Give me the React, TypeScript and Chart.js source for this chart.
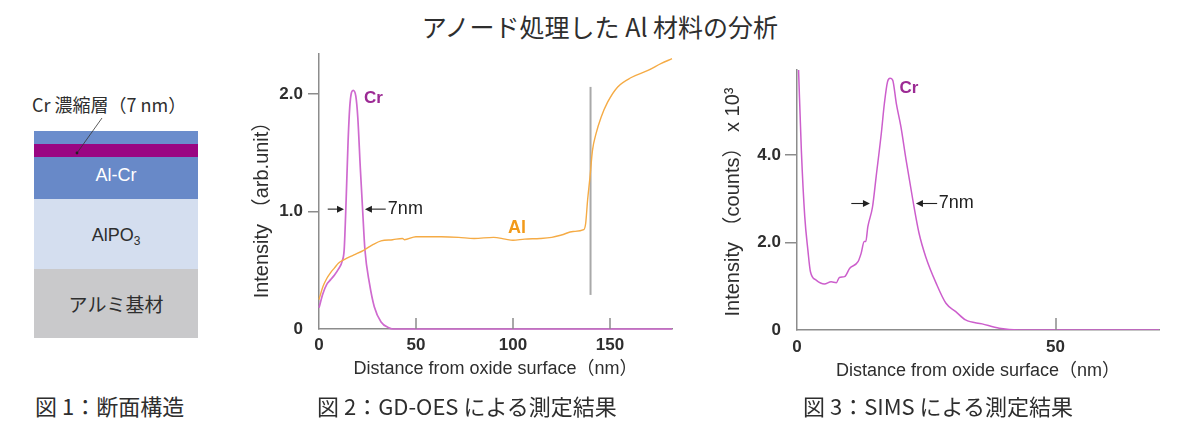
import React, { useEffect, useRef } from "react";
import { Chart, registerables } from "chart.js";
Chart.register(...registerables);

const FONT = "'Liberation Sans', 'Noto Sans CJK JP', Arial, sans-serif";
const JP = "'Noto Sans CJK JP', 'Noto Sans', sans-serif";
const TEXT = "#2e2e2e";
const AXIS = "#8c8c8c";

// ---- Figure 2: GD-OES ----
const gdXTicks = [0, 50, 100, 150];
const gdYTicks = [0, 1, 2];
const gdCrX = [0, 2, 4, 6, 8, 10, 12, 13, 14, 15, 16, 17.6, 19, 20, 21.3, 22.5, 23.7, 26, 28.5, 32, 36, 38, 182];
const gdCrY = [0.18, 0.3, 0.38, 0.42, 0.46, 0.51, 0.58, 0.68, 1.1, 1.6, 1.92, 2.03, 1.98, 1.8, 1.37, 1.01, 0.67, 0.39, 0.19, 0.06, 0.01, 0, 0];
const gdAlX = [0, 2, 4, 6, 8, 10, 13, 18, 23, 28, 32, 38, 43, 44, 50, 63, 72, 80, 90, 96, 100, 106, 114, 120, 125, 131, 136.5, 137.5, 138.5, 139.7, 141, 142.8, 145.4, 148.8, 154, 161, 169.6, 176.5, 182];
const gdAlY = [0.25, 0.36, 0.43, 0.48, 0.52, 0.56, 0.59, 0.63, 0.67, 0.72, 0.75, 0.76, 0.77, 0.76, 0.785, 0.785, 0.78, 0.77, 0.78, 0.765, 0.755, 0.765, 0.77, 0.78, 0.8, 0.83, 0.845, 0.9, 1.1, 1.29, 1.52, 1.66, 1.8, 1.93, 2.06, 2.14, 2.2, 2.26, 2.3];

// ---- Figure 3: SIMS ----
const simsXTicks = [0, 50];
const simsYTicks = [0, 2, 4];
const simsX = [0.3, 0.84, 1.5, 2.1, 2.6, 3.7, 5.3, 6.6, 7.6, 8.2, 9.2, 10.2, 11.8, 12.4, 13.0, 13.3, 13.7, 14.6, 15.3, 16.3, 16.9, 17.5, 18.0, 18.5, 19.2, 20.1, 21.1, 22.4, 23.6, 24.9, 26.9, 28.8, 30.7, 32.6, 35.8, 39.1, 42.9, 70];
const simsY = [5.95, 4.11, 2.59, 1.83, 1.33, 1.14, 1.05, 1.1, 1.08, 1.2, 1.22, 1.41, 1.56, 1.75, 2.02, 2.02, 2.36, 2.81, 3.5, 4.49, 5.18, 5.67, 5.75, 5.71, 5.18, 4.64, 3.88, 2.97, 2.21, 1.67, 1.07, 0.61, 0.42, 0.23, 0.14, 0.04, 0, 0];

const pts = (xs: number[], ys: number[]) => xs.map((x, i) => ({ x, y: ys[i] }));
const fmtY = (v: number) => (v === 0 ? "0" : v.toFixed(1));

type Arrow = { x1: number; x2: number; y: number };
type Label = { x: number; y: number; text: string; color: string; font: string };
type AnnotCfg = {
  vlines?: { x: number; y1: number; y2: number; color: string; width: number }[];
  arrows?: Arrow[];
  labels?: Label[];
  yTitle?: { text: string; cx: number; cy: number; font: string };
  tickLen?: number;
  tickValues?: number[];
};

function makeAnnot(cfg: AnnotCfg) {
  return {
    id: "annot",
    beforeDatasetsDraw(chart: any) {
      const { ctx, scales } = chart;
      const xs = scales.x, ys = scales.y;
      (cfg.vlines || []).forEach((v) => {
        ctx.save();
        ctx.strokeStyle = v.color;
        ctx.lineWidth = v.width;
        const px = xs.getPixelForValue(v.x);
        ctx.beginPath();
        ctx.moveTo(px, ys.getPixelForValue(v.y1));
        ctx.lineTo(px, ys.getPixelForValue(v.y2));
        ctx.stroke();
        ctx.restore();
      });
    },
    afterDraw(chart: any) {
      const { ctx, scales } = chart;
      const xs = scales.x, ys = scales.y;
      const base = ys.getPixelForValue(0);
      const len = cfg.tickLen || 0;
      (cfg.tickValues || []).forEach((v) => {
        if (v === 0) return;
        const px = Math.round(xs.getPixelForValue(v));
        ctx.save();
        ctx.fillStyle = AXIS;
        ctx.fillRect(px - 0.75, base - len, 1.5, len);
        ctx.restore();
      });
      (cfg.arrows || []).forEach((a) => {
        const p1 = xs.getPixelForValue(a.x1);
        const p2 = xs.getPixelForValue(a.x2);
        const py = ys.getPixelForValue(a.y);
        const dir = p2 > p1 ? 1 : -1;
        ctx.save();
        ctx.strokeStyle = "#222";
        ctx.fillStyle = "#222";
        ctx.lineWidth = 1.1;
        ctx.beginPath();
        ctx.moveTo(p1, py);
        ctx.lineTo(p2 - dir * 5, py);
        ctx.stroke();
        ctx.beginPath();
        ctx.moveTo(p2, py);
        ctx.lineTo(p2 - dir * 7, py - 3.5);
        ctx.lineTo(p2 - dir * 7, py + 3.5);
        ctx.closePath();
        ctx.fill();
        ctx.restore();
      });
      (cfg.labels || []).forEach((l) => {
        ctx.save();
        ctx.fillStyle = l.color;
        ctx.font = l.font;
        ctx.textAlign = "left";
        ctx.textBaseline = "middle";
        ctx.fillText(l.text, xs.getPixelForValue(l.x), ys.getPixelForValue(l.y));
        ctx.restore();
      });
      if (cfg.yTitle) {
        const t = cfg.yTitle;
        ctx.save();
        ctx.translate(t.cx, t.cy);
        ctx.rotate(-Math.PI / 2);
        ctx.fillStyle = TEXT;
        ctx.font = t.font;
        ctx.textAlign = "center";
        ctx.textBaseline = "middle";
        ctx.fillText(t.text, 0, 0);
        ctx.restore();
      }
    },
  };
}

type AxisSpec = {
  xMax: number;
  yMax: number;
  xTicks: number[];
  yTicks: number[];
  yWidth: number;
  xHeight: number;
  yTickLen: number;
  xLabelPad: number;
  yLabelPad: number;
  xTitlePad: number;
};

function buildScales(s: AxisSpec) {
  const tickFont = { family: FONT, size: 17, weight: "bold" };
  return {
    x: {
      type: "linear",
      min: 0,
      max: s.xMax,
      afterBuildTicks: (sc: any) => {
        sc.ticks = s.xTicks.map((v) => ({ value: v }));
      },
      afterFit: (sc: any) => {
        sc.height = s.xHeight;
        sc.paddingLeft = 0;
        sc.paddingRight = 0;
      },
      border: { display: true, color: AXIS, width: 1.5 },
      grid: {
        drawOnChartArea: false,
        drawTicks: false,
        tickLength: 0,
      },
      ticks: {
        color: TEXT,
        font: tickFont,
        padding: s.xLabelPad,
        maxRotation: 0,
        callback: (v: any) => String(v),
      },
      title: {
        display: true,
        text: "Distance from oxide surface（nm）",
        color: TEXT,
        font: { family: FONT, size: 18 },
        padding: { top: 0, bottom: s.xTitlePad },
      },
    },
    y: {
      type: "linear",
      min: 0,
      max: s.yMax,
      afterBuildTicks: (sc: any) => {
        sc.ticks = s.yTicks.map((v) => ({ value: v }));
      },
      afterFit: (sc: any) => {
        sc.width = s.yWidth;
        sc.paddingTop = 0;
        sc.paddingBottom = 0;
      },
      border: { display: true, color: AXIS, width: 1.5 },
      grid: {
        drawOnChartArea: false,
        drawTicks: true,
        tickLength: s.yTickLen,
        lineWidth: 1.5,
        color: (c: any) => (c.tick && c.tick.value === 0 ? "rgba(0,0,0,0)" : AXIS),
      },
      ticks: {
        color: TEXT,
        font: tickFont,
        padding: s.yLabelPad,
        callback: (v: any) => fmtY(Number(v)),
      },
    },
  };
}

function GdChart() {
  const ref = useRef<HTMLCanvasElement | null>(null);
  useEffect(() => {
    if (!ref.current) return;
    const chart = new Chart(ref.current, {
      type: "line",
      data: {
        datasets: [
          {
            label: "Al",
            data: pts(gdAlX, gdAlY),
            borderColor: "#f5ab45",
            borderWidth: 1.4,
            pointRadius: 0,
            cubicInterpolationMode: "monotone",
            clip: false,
          },
          {
            label: "Cr",
            data: pts(gdCrX, gdCrY),
            borderColor: "#cf6acf",
            borderWidth: 1.7,
            pointRadius: 0,
            cubicInterpolationMode: "monotone",
            clip: false,
          },
        ],
      },
      options: {
        responsive: false,
        animation: false,
        devicePixelRatio: 1,
        layout: { padding: { left: 0, right: 8, top: 4, bottom: 0 } },
        plugins: { legend: { display: false }, tooltip: { enabled: false } },
        scales: buildScales({
          xMax: 182,
          yMax: 2.34,
          xTicks: gdXTicks,
          yTicks: gdYTicks,
          yWidth: 79,
          xHeight: 61,
          yTickLen: 11,
          xLabelPad: 6,
          yLabelPad: 5,
          xTitlePad: 10,
        }) as any,
      } as any,
      plugins: [
        makeAnnot({
          tickValues: gdXTicks,
          tickLen: 11,
          vlines: [{ x: 140, y1: 0.29, y2: 2.06, color: "#a9a9a9", width: 2 }],
          arrows: [
            { x1: 4.5, x2: 12.9, y: 1.02 },
            { x1: 34.4, x2: 23.7, y: 1.02 },
          ],
          labels: [
            { x: 35.5, y: 1.02, text: "7nm", color: "#222", font: `18px ${FONT}` },
            { x: 23.2, y: 1.96, text: "Cr", color: "#9c2a94", font: `bold 17px ${FONT}` },
            { x: 97.4, y: 0.86, text: "Al", color: "#f29a1a", font: `bold 18px ${FONT}` },
          ],
          yTitle: { text: "Intensity （arb.unit）", cx: 22, cy: 155, font: `20px ${FONT}` },
        }) as any,
      ],
    } as any);
    return () => chart.destroy();
  }, []);
  return (
    <canvas ref={ref} width={440} height={340} style={{ position: "absolute", left: 240, top: 50, width: 440, height: 340 }} />
  );
}

function SimsChart() {
  const ref = useRef<HTMLCanvasElement | null>(null);
  useEffect(() => {
    if (!ref.current) return;
    const chart = new Chart(ref.current, {
      type: "line",
      data: {
        datasets: [
          {
            label: "Cr",
            data: pts(simsX, simsY),
            borderColor: "#cc5ecc",
            borderWidth: 1.5,
            pointRadius: 0,
            cubicInterpolationMode: "monotone",
          },
        ],
      },
      options: {
        responsive: false,
        animation: false,
        devicePixelRatio: 1,
        layout: { padding: { left: 0, right: 21, top: 20, bottom: 0 } },
        plugins: { legend: { display: false }, tooltip: { enabled: false } },
        scales: buildScales({
          xMax: 70,
          yMax: 5.94,
          xTicks: simsXTicks,
          yTicks: simsYTicks,
          yWidth: 97,
          xHeight: 60,
          yTickLen: 12,
          xLabelPad: 7,
          yLabelPad: 4,
          xTitlePad: 8,
        }) as any,
      } as any,
      plugins: [
        makeAnnot({
          tickValues: simsXTicks,
          tickLen: 12,
          arrows: [
            { x1: 10.5, x2: 14.1, y: 2.89 },
            { x1: 27.1, x2: 23.0, y: 2.89 },
          ],
          labels: [
            { x: 27.4, y: 2.89, text: "7nm", color: "#222", font: `18px ${FONT}` },
            { x: 19.8, y: 5.52, text: "Cr", color: "#9c2a94", font: `bold 17px ${FONT}` },
          ],
          yTitle: { text: "Intensity （counts） x 10³", cx: 33, cy: 152, font: `20px ${FONT}` },
        }) as any,
      ],
    } as any);
    return () => chart.destroy();
  }, []);
  return (
    <canvas ref={ref} width={480} height={340} style={{ position: "absolute", left: 700, top: 50, width: 480, height: 340 }} />
  );
}

function Txt(props: { left?: number; cx?: number; cy: number; size: number; color?: string; children: any }) {
  const lh = props.size * 1.4;
  const style: any = {
    position: "absolute",
    top: props.cy - lh / 2,
    lineHeight: `${lh}px`,
    fontSize: props.size,
    fontFamily: JP,
    color: props.color || TEXT,
    whiteSpace: "nowrap",
  };
  if (props.cx !== undefined) {
    style.left = props.cx - 200;
    style.width = 400;
    style.textAlign = "center";
  } else {
    style.left = props.left;
  }
  return <div style={style}>{props.children}</div>;
}

function Layers() {
  const L = 34, W = 164;
  const band = (top: number, h: number, bg: string) => (
    <div style={{ position: "absolute", left: L, top, width: W, height: h, background: bg }} />
  );
  return (
    <>
      {band(131, 13, "#6b8dcc")}
      {band(144, 13, "#9a0682")}
      {band(157, 42, "#6889c8")}
      {band(199, 70, "#d4deef")}
      {band(269, 69, "#c9c9cb")}
      <Txt cx={116} cy={174} size={18} color="#ffffff">
        <span style={{ fontFamily: FONT }}>Al-Cr</span>
      </Txt>
      <Txt cx={116} cy={234} size={18}>
        <span style={{ fontFamily: FONT }}>
          AlPO<sub style={{ fontSize: 12, verticalAlign: "baseline", position: "relative", top: 4 }}>3</sub>
        </span>
      </Txt>
      <Txt cx={116} cy={304} size={19}>アルミ基材</Txt>
      <Txt left={32} cy={105} size={18}>Cr 濃縮層（7 nm）</Txt>
      <svg width={240} height={200} style={{ position: "absolute", left: 0, top: 0 }}>
        <line x1={102} y1={118} x2={77} y2={153} stroke="#333" strokeWidth={0.8} />
        <circle cx={77} cy={153} r={1.4} fill="#222" />
      </svg>
    </>
  );
}

export default function App() {
  return (
    <div
      style={{
        position: "absolute",
        left: 0,
        top: 0,
        width: 1200,
        height: 444,
        background: "#ffffff",
        overflow: "hidden",
      }}
    >
      <Txt cx={600} cy={26} size={25}>アノード処理した Al 材料の分析</Txt>
      <Layers />
      <GdChart />
      <SimsChart />
      <Txt left={35} cy={405} size={22}>図 1：断面構造</Txt>
      <Txt left={317} cy={405} size={22}>図 2：GD-OES による測定結果</Txt>
      <Txt left={803} cy={405} size={22}>図 3：SIMS による測定結果</Txt>
    </div>
  );
}
